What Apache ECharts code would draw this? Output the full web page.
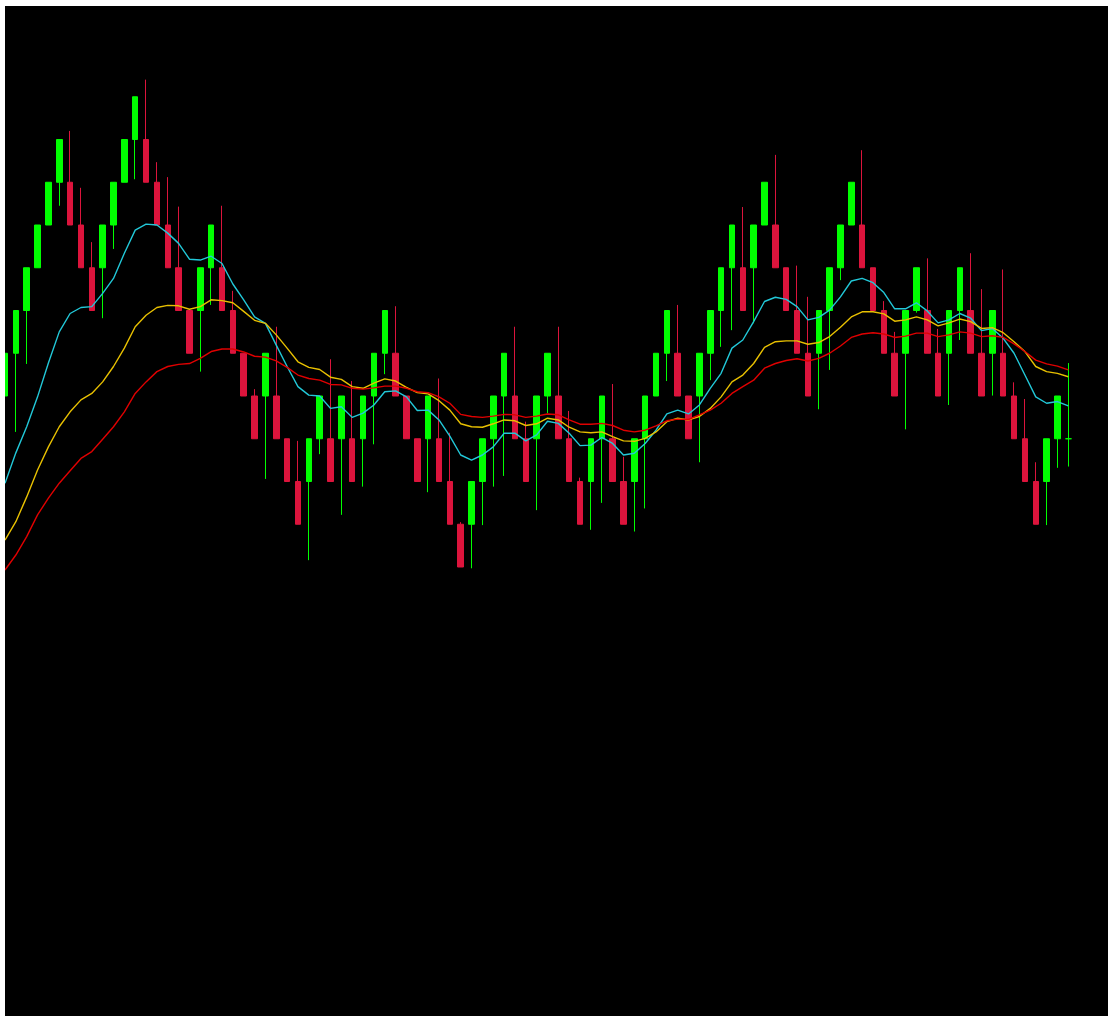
<!DOCTYPE html>
<html>
<head>
<meta charset="utf-8">
<script src="https://cdn.jsdelivr.net/npm/echarts@6/dist/echarts.min.js"></script>
<style>
  html, body { margin: 0; padding: 0; background: #ffffff; width: 1113px; height: 1019px; overflow: hidden; }
  #frame { position: absolute; left: 5px; top: 6px; width: 1103px; height: 1010px; background: #000000; }
  #chart { position: absolute; left: 0; top: 0; width: 1103px; height: 1010px; }
</style>
</head>
<body>
<div id="frame"><div id="chart"></div></div>
<script>
// Candles: [open, close, low, high] in brick units
const candles = [
  [4,5,4,5],[5,6,3.16,6],[6,7,4.75,7],[7,8,7,8],[8,9,8,9],
  [9,10,8.45,10],[9,8,8,10.2],[8,7,7,8.87],[7,6,6,7.6],[7,8,5.82,8],
  [8,9,7.44,9],[9,10,9,10],[10,11,9.07,11],[10,9,9,11.4],[9,8,8,9.47],
  [8,7,7,9.12],[7,6,6,8.43],[6,5,5,6],[6,7,4.57,7],[7,8,6.13,8],
  [7,6,6,8.45],[6,5,5,6.46],[5,4,4,5],[4,3,3,4.16],[4,5,2.06,5],
  [4,3,3,5.62],[3,2,2,3],[2,1,1,2.95],[2,3,0.16,3],[3,4,2.64,4],
  [3,2,2,4.86],[3,4,1.22,4],[3,2,2,4.35],[3,4,1.88,4],[4,5,2.87,5],
  [5,6,4.51,6],[5,4,4,6.1],[4,3,3,4],[3,2,2,3],[3,4,1.75,4],
  [3,2,2,4.41],[2,1,1,3.14],[1,0,0,1.05],[1,2,-0.03,2],[2,3,0.98,3],
  [3,4,1.88,4],[4,5,2.13,5],[4,3,3,5.62],[3,2,2,3.4],[3,4,1.33,4],
  [4,5,3.6,5],[4,3,3,5.62],[3,2,2,3.65],[2,1,1,2.09],[2,3,0.87,3],
  [3,4,1.5,4],[3,2,2,4.28],[2,1,1,2.58],[2,3,0.83,3],[3,4,1.37,4],
  [4,5,4,5],[5,6,4.35,6],[5,4,4,6.13],[4,3,3,4],[4,5,2.45,5],
  [5,6,4.37,6],[6,7,5.15,7],[7,8,5.54,8],[7,6,6,8.42],[7,8,5.7,8],
  [8,9,8,9],[8,7,7,9.64],[7,6,6,7],[6,5,5,7.05],[5,4,4,6.32],
  [5,6,3.69,6],[6,7,4.61,7],[7,8,6.71,8],[8,9,8,9],[8,7,7,9.75],
  [7,6,6,7],[6,5,5,6.22],[5,4,4,5.5],[5,6,3.22,6],[6,7,5.95,7],
  [6,5,5,7.22],[5,4,4,5.57],[5,6,3.79,6],[6,7,5.31,7],[6,5,5,7.34],
  [5,4,4,6.5],[5,6,4.01,6],[5,4,4,6.96],[4,3,3,4.32],[3,2,2,3.93],
  [2,1,1,2.45],[2,3,0.98,3],[3,4,2.32,4],[3,3,2.35,4.77]
];

const maFast = [
  1.96,2.67,3.28,3.98,4.77,5.50,5.93,6.07,6.09,6.40,
  6.75,7.34,7.88,8.02,8.00,7.81,7.57,7.20,7.18,7.27,
  7.10,6.62,6.25,5.85,5.70,5.19,4.69,4.22,4.02,4.00,
  3.71,3.75,3.50,3.60,3.79,4.10,4.12,3.98,3.66,3.67,
  3.44,3.06,2.62,2.50,2.62,2.81,3.13,3.13,2.95,3.09,
  3.41,3.36,3.13,2.84,2.85,3.03,2.89,2.62,2.66,2.89,
  3.20,3.58,3.67,3.58,3.79,4.18,4.53,5.12,5.31,5.74,
  6.21,6.31,6.26,6.09,5.78,5.84,6.01,6.32,6.69,6.75,
  6.65,6.42,6.04,6.04,6.18,5.99,5.71,5.78,5.93,5.82,
  5.53,5.58,5.35,5.00,4.49,3.98,3.83,3.87,3.77
];

const maMid = [
  0.63,1.06,1.64,2.27,2.81,3.28,3.63,3.91,4.06,4.33,
  4.69,5.12,5.62,5.89,6.07,6.12,6.11,6.03,6.09,6.25,
  6.23,6.18,5.98,5.77,5.70,5.43,5.12,4.80,4.67,4.62,
  4.44,4.39,4.22,4.18,4.30,4.40,4.35,4.20,4.08,4.05,
  3.89,3.67,3.35,3.28,3.27,3.35,3.44,3.42,3.31,3.35,
  3.48,3.44,3.27,3.16,3.14,3.16,3.05,2.95,2.94,3.01,
  3.16,3.40,3.48,3.44,3.52,3.71,3.98,4.33,4.49,4.76,
  5.14,5.27,5.29,5.29,5.21,5.25,5.39,5.61,5.85,5.97,
  5.97,5.92,5.75,5.78,5.85,5.78,5.64,5.71,5.80,5.74,
  5.58,5.60,5.48,5.27,5.04,4.69,4.57,4.53,4.45
];

const maSlow = [
  -0.07,0.28,0.71,1.22,1.61,1.96,2.25,2.54,2.70,2.99,
  3.28,3.63,4.06,4.33,4.57,4.69,4.74,4.76,4.88,5.04,
  5.10,5.10,5.03,4.93,4.91,4.82,4.67,4.49,4.41,4.37,
  4.27,4.26,4.18,4.16,4.19,4.23,4.23,4.18,4.10,4.08,
  3.98,3.83,3.57,3.52,3.50,3.53,3.57,3.56,3.50,3.53,
  3.58,3.56,3.44,3.34,3.34,3.36,3.31,3.20,3.16,3.20,
  3.30,3.42,3.46,3.45,3.56,3.67,3.83,4.06,4.22,4.37,
  4.65,4.76,4.83,4.87,4.82,4.88,5.00,5.17,5.37,5.45,
  5.48,5.45,5.37,5.40,5.47,5.47,5.39,5.43,5.50,5.47,
  5.39,5.41,5.37,5.22,5.04,4.84,4.75,4.70,4.61
];

// category slots (hidden axis); a few empty slots remain at the right
const categories = [];
for (let i = 1; i <= 102; i++) categories.push(String(i));

const UP = '#00ff00';
const DOWN = '#dc143c';

const candleData = candles.map(function (c) {
  if (c[0] === c[1]) {
    return { value: c, itemStyle: { color: UP, color0: UP, borderColor: UP, borderColor0: UP } };
  }
  return c;
});

const chart = echarts.init(document.getElementById('chart'), null, { renderer: 'canvas' });
const slot = 10.855;
chart.setOption({
  animation: false,
  backgroundColor: '#000000',
  grid: { left: -0.5, top: 5.25, width: slot * (categories.length - 1), height: 983.25, containLabel: false },
  xAxis: {
    type: 'category',
    data: categories,
    boundaryGap: false,
    show: false
  },
  yAxis: {
    type: 'value',
    min: -10,
    max: 13,
    show: false,
    splitLine: { show: false }
  },
  series: [
    {
      name: 'Price',
      type: 'candlestick',
      data: candleData,
      barWidth: 6,
      clip: true,
      itemStyle: {
        color: UP,
        color0: DOWN,
        borderColor: UP,
        borderColor0: DOWN,
        borderWidth: 1
      },
      z: 2
    },
    {
      name: 'MA fast',
      type: 'line',
      data: maFast,
      showSymbol: false,
      lineStyle: { color: '#22c8d8', width: 1.4 },
      z: 3
    },
    {
      name: 'MA mid',
      type: 'line',
      data: maMid,
      showSymbol: false,
      lineStyle: { color: '#e8c000', width: 1.4 },
      z: 3
    },
    {
      name: 'MA slow',
      type: 'line',
      data: maSlow,
      showSymbol: false,
      lineStyle: { color: '#e00000', width: 1.4 },
      z: 3
    }
  ]
});
</script>
</body>
</html>
